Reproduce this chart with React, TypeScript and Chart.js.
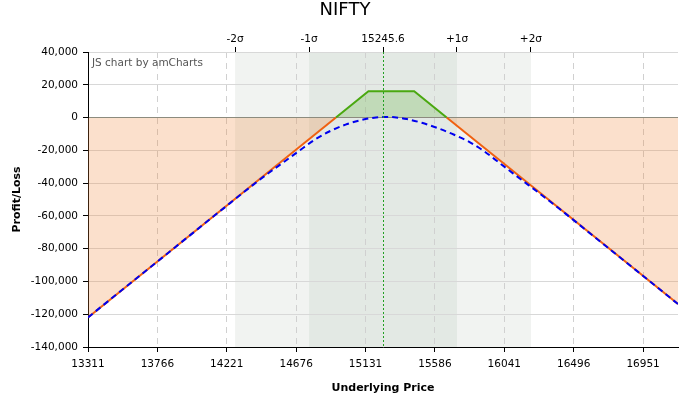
import React, { useEffect, useRef } from 'react';
import { Chart, registerables } from 'chart.js';
Chart.register(...registerables);

const xTicks = [13311, 13766, 14221, 14676, 15131, 15586, 16041, 16496, 16951];
const xMin = 13311;
const xMax = 17180;
const sigmaPrices = [14275.6, 14760.6, 15245.6, 15730.6, 16215.6];
const sigmaLabels = ['-2σ', '-1σ', '15245.6', '+1σ', '+2σ'];
const spotPrice = 15245.6;

const payoffPrices = [13311, 14937, 15150, 15450, 15663, 17180];
const payoffValues = [-121950, 0, 16000, 16000, 0, -113775];

const todayPrices = [13311, 13800, 14200, 14400, 14500, 14600, 14700, 14800, 14900, 15000, 15100, 15200, 15260, 15320, 15400, 15500, 15600, 15700, 15800, 15900, 16000, 16100, 16200, 16300, 16400, 16600, 16900, 17180];
const todayValues = [-121950, -85300, -55400, -40600, -33500, -26800, -20000, -13400, -8200, -4300, -1600, 100, 400, 200, -900, -3200, -6300, -10000, -14300, -20000, -27000, -34200, -41200, -48300, -55500, -70400, -92800, -113800];

const FONT = '"DejaVu Sans", Verdana, sans-serif';
const GREEN = '#4aa810';
const ORANGE = '#f06010';

export default function App() {
  const ref = useRef<HTMLCanvasElement>(null);
  useEffect(() => {
    const canvas = ref.current;
    if (!canvas) return;
    const decor = {
      id: 'decor',
      beforeDraw(chart: any) {
        const { ctx, chartArea: a, scales } = chart;
        const px = (v: number) => scales.x.getPixelForValue(v);
        ctx.save();
        ctx.fillStyle = '#f1f3f1';
        ctx.fillRect(px(sigmaPrices[0]), a.top, px(sigmaPrices[4]) - px(sigmaPrices[0]), a.bottom - a.top);
        ctx.fillStyle = '#e3e9e4';
        ctx.fillRect(px(sigmaPrices[1]), a.top, px(sigmaPrices[3]) - px(sigmaPrices[1]), a.bottom - a.top);
        ctx.restore();
      },
      afterDatasetsDraw(chart: any) {
        const { ctx, chartArea: a, scales } = chart;
        const x = Math.round(scales.x.getPixelForValue(spotPrice)) + 0.5;
        ctx.save();
        ctx.strokeStyle = '#22a022';
        ctx.lineWidth = 1;
        ctx.setLineDash([2, 2]);
        ctx.beginPath();
        ctx.moveTo(x, a.top);
        ctx.lineTo(x, a.bottom);
        ctx.stroke();
        ctx.restore();
      },
      afterDraw(chart: any) {
        const { ctx, chartArea: a } = chart;
        ctx.save();
        ctx.fillStyle = '#000';
        ctx.font = '18px ' + FONT;
        ctx.textAlign = 'center';
        ctx.textBaseline = 'middle';
        ctx.fillText('NIFTY', chart.width / 2, 10);
        ctx.fillStyle = '#555';
        ctx.font = '10.5px ' + FONT;
        ctx.textAlign = 'left';
        ctx.fillText('JS chart by amCharts', a.left + 4, a.top + 11);
        ctx.restore();
      },
    };

    const chart = new Chart(canvas, {
      type: 'line',
      data: {
        datasets: [
          {
            label: 'T+0',
            data: todayPrices.map((p, i) => ({ x: p, y: todayValues[i] })),
            borderColor: '#0000ee',
            borderWidth: 2,
            borderDash: [6, 4],
            pointRadius: 0,
            fill: false,
            cubicInterpolationMode: 'monotone',
          },
          {
            label: 'Payoff',
            data: payoffPrices.map((p, i) => ({ x: p, y: payoffValues[i] })),
            borderWidth: 2,
            pointRadius: 0,
            tension: 0,
            borderColor: ORANGE,
            segment: {
              borderColor: (c: any) => (c.p0.parsed.y + c.p1.parsed.y) / 2 >= 0 ? GREEN : ORANGE,
            },
            fill: {
              target: { value: 0 },
              above: 'rgba(90,175,50,0.25)',
              below: 'rgba(240,130,50,0.25)',
            },
          },
        ],
      },
      options: {
        animation: false,
        responsive: true,
        maintainAspectRatio: false,
        layout: { padding: { left: 0, right: 12, top: 0, bottom: 0 } },
        plugins: { legend: { display: false }, tooltip: { enabled: false }, title: { display: false } },
        scales: {
          x: {
            type: 'linear',
            position: 'bottom',
            min: xMin,
            max: xMax,
            afterBuildTicks: (s: any) => { s.ticks = xTicks.map((v) => ({ value: v })); },
            afterFit: (s: any) => { s.height = 52; },
            ticks: {
              autoSkip: false,
              maxRotation: 0,
              color: '#000',
              padding: 6,
              font: { family: FONT, size: 10.5 },
              callback: (v: any) => String(v),
            },
            grid: { color: '#d0d0d0', tickColor: '#000', tickLength: 5 },
            border: { color: '#000', width: 1, dash: [6, 5] },
            title: {
              display: true,
              text: 'Underlying Price',
              color: '#000',
              font: { family: FONT, size: 11, weight: 'bold' },
              padding: { top: 0, bottom: 4 },
            },
          },
          xTop: {
            type: 'linear',
            position: 'top',
            min: xMin,
            max: xMax,
            afterBuildTicks: (s: any) => { s.ticks = sigmaPrices.map((v) => ({ value: v })); },
            afterFit: (s: any) => { s.height = 52; },
            ticks: {
              autoSkip: false,
              maxRotation: 0,
              color: '#000',
              padding: 1,
              font: { family: FONT, size: 10.5 },
              callback: (_v: any, i: number) => sigmaLabels[i],
            },
            grid: { drawOnChartArea: false, tickColor: '#000', tickLength: 5 },
            border: { display: false },
          },
          y: {
            type: 'linear',
            min: -140000,
            max: 40000,
            afterFit: (s: any) => { s.width = 88; },
            ticks: {
              stepSize: 20000,
              color: '#000',
              padding: 5,
              font: { family: FONT, size: 10.5 },
              callback: (v: any) => Number(v).toLocaleString('en-US'),
            },
            grid: {
              color: (c: any) => (c.tick && c.tick.value === 0 ? '#8a8a8a' : '#d8d8d8'),
              tickColor: '#000',
              tickLength: 5,
            },
            border: { color: '#000', width: 1 },
            title: {
              display: true,
              text: 'Profit/Loss',
              color: '#000',
              font: { family: FONT, size: 11, weight: 'bold' },
              padding: { top: 11, bottom: 0 },
            },
          },
        },
      },
      plugins: [decor],
    } as any);
    return () => chart.destroy();
  }, []);

  return (
    <div style={{ position: 'fixed', left: 0, top: 0, width: 690, height: 399, background: '#fff' }}>
      <canvas ref={ref} />
    </div>
  );
}
